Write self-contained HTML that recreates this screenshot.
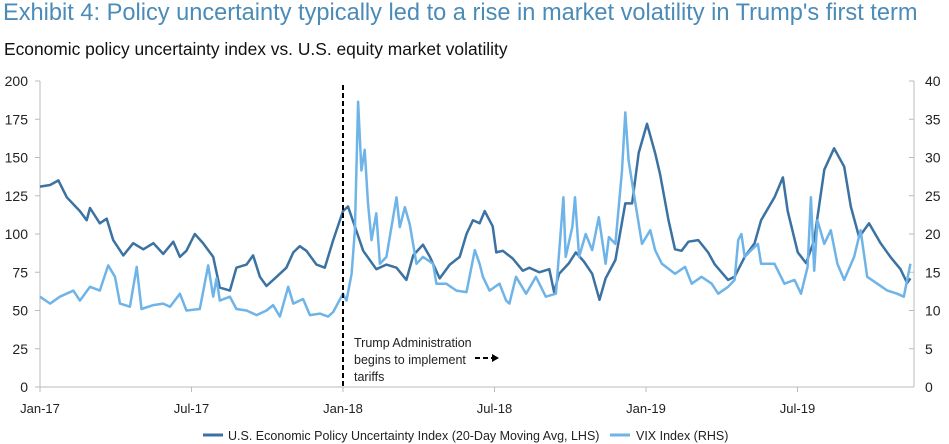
<!DOCTYPE html>
<html><head><meta charset="utf-8">
<style>
body{margin:0;background:#fff;width:949px;height:444px;overflow:hidden;font-family:"Liberation Sans",sans-serif}
#title{position:absolute;left:3px;top:0px;font-size:23.6px;color:#4b8bb8;white-space:nowrap}
#sub{position:absolute;left:4px;top:39px;font-size:17.4px;color:#111;white-space:nowrap}
svg{position:absolute;left:0;top:0}
text{font-family:"Liberation Sans",sans-serif}
</style></head><body>
<div id="title">Exhibit 4: Policy uncertainty typically led to a rise in market volatility in Trump's first term</div>
<div id="sub">Economic policy uncertainty index vs. U.S. equity market volatility</div>
<svg id="chart" width="949" height="444"></svg>
<script>
const epuMonths=[0,0.4,0.73,1.06,1.58,1.85,1.98,2.37,2.64,2.9,3.3,3.69,4.09,4.49,4.88,5.28,5.54,5.8,6.13,6.46,6.86,7.12,7.52,7.78,8.18,8.44,8.71,8.97,9.37,9.76,10.03,10.29,10.55,10.95,11.28,11.61,12.0,12.2,12.53,12.8,13.32,13.72,14.12,14.51,14.78,15.17,15.44,15.83,16.23,16.62,16.89,17.15,17.41,17.61,17.93,18.07,18.33,18.72,19.12,19.38,19.77,20.17,20.36,20.56,20.95,21.22,21.54,21.87,22.16,22.4,22.79,23.18,23.45,23.71,24.04,24.36,24.56,24.89,25.15,25.41,25.68,26.07,26.46,26.73,27.25,27.51,27.91,28.3,28.56,29.09,29.42,29.61,30.01,30.34,30.66,31.06,31.45,31.85,32.11,32.44,32.83,33.29,33.68,34.08,34.34,34.47];
const epuValues=[131,132,135,124,115,109,117,107,110,96,86,94,90,94,87,95,85,89,100,94,85,65,63,78,80,86,72,66,72,78,88,92,89,80,78,96,115,118,102,89,77,80,78,70,86,93,85,71,80,85,100,109,107,115,105,88,89,84,76,78,75,77,62,74,81,88,82,74,57,71,83,120,120,153,172,153,139,109,90,89,95,96,88,80,70,72,85,94,109,124,137,115,88,81,96,142,156,144,118,98,107,94,85,77,68,71];
const vixMonths=[0,0.4,0.79,1.32,1.58,1.98,2.37,2.7,2.97,3.17,3.56,3.83,4.02,4.49,4.88,5.15,5.54,5.8,6.33,6.66,6.86,6.99,7.12,7.52,7.78,8.18,8.58,8.97,9.23,9.5,9.83,10.03,10.42,10.69,11.08,11.41,11.61,12.0,12.14,12.34,12.47,12.6,12.73,12.86,12.99,13.13,13.32,13.46,13.72,14.12,14.25,14.45,14.64,14.91,15.17,15.57,15.7,16.09,16.49,16.89,17.22,17.41,17.54,17.8,18.2,18.46,18.59,18.85,19.25,19.64,20.03,20.43,20.73,20.82,21.08,21.19,21.35,21.61,21.87,22.13,22.4,22.53,22.79,23.05,23.18,23.31,23.58,23.84,24.17,24.36,24.63,25.15,25.55,25.81,26.2,26.6,26.86,27.25,27.51,27.65,27.78,27.91,28.17,28.43,28.56,29.09,29.48,29.88,30.14,30.4,30.53,30.66,30.79,31.06,31.32,31.58,31.85,32.24,32.5,32.76,33.16,33.56,33.95,34.21,34.47];
const vixValues=[11.8,10.9,11.8,12.6,11.3,13.1,12.6,15.9,14.4,10.9,10.5,15.7,10.2,10.7,10.9,10.5,12.2,10.0,10.2,15.9,11.8,14.2,11.3,11.8,10.2,10.0,9.4,10.0,10.7,9.2,13.1,10.9,11.5,9.4,9.6,9.2,9.8,12.2,11.3,14.8,20.5,37.3,28.3,31.0,24.0,19.2,22.7,16.1,17.0,24.8,20.9,23.5,21.3,16.1,17.0,16.1,13.5,13.5,12.6,12.4,17.9,16.1,14.4,12.6,13.5,11.3,10.9,14.4,12.2,14.4,11.8,12.2,24.8,17.0,20.9,24.8,17.0,20.0,17.9,22.2,16.1,19.6,18.7,28.3,35.9,29.6,24.0,18.7,20.5,17.9,16.1,14.8,15.7,13.5,14.4,13.5,12.2,13.1,14.0,19.2,20.0,17.0,17.9,18.7,16.1,16.1,13.5,14.0,12.2,15.7,24.8,15.2,21.8,18.7,20.5,16.1,14.0,17.0,20.5,14.4,13.5,12.6,12.2,11.8,16.1];
const leftTicks=[0,25,50,75,100,125,150,175,200];
const rightTicks=[0,5,10,15,20,25,30,35,40];
const xTickLabels=["Jan-17","Jul-17","Jan-18","Jul-18","Jan-19","Jul-19"];
const xTickMonths=[0,6,12,18,24,30];
const tariffMonth=12;

const NS="http://www.w3.org/2000/svg";
const svg=document.getElementById('chart');
const X0=40,PXM=25.25,Y0=387,YTOP=81;
const xs=m=>X0+m*PXM;
const yl=v=>Y0-v*(Y0-YTOP)/200;
const yr=v=>Y0-v*(Y0-YTOP)/40;
function mk(tag,attrs,txt){const e=document.createElementNS(NS,tag);for(const k in attrs)e.setAttribute(k,attrs[k]);if(txt!==undefined)e.textContent=txt;svg.appendChild(e);return e;}

let a=mk('line',{x1:X0,y1:YTOP,x2:X0,y2:Y0,stroke:'#bbb','stroke-width':1});


a=mk('line',{x1:914,y1:YTOP,x2:914,y2:Y0,stroke:'#bbb','stroke-width':1});


a=mk('line',{x1:X0,y1:Y0,x2:914,y2:Y0,stroke:'#bbb','stroke-width':1});


leftTicks.forEach(v=>{
  mk('line',{x1:X0-5,y1:yl(v),x2:X0,y2:yl(v),stroke:'#bbb'});
  const t=mk('text',{x:X0-12,y:yl(v)+5,'text-anchor':'end','font-size':14,fill:'#222'},String(v));
  
  
});
rightTicks.forEach(v=>{
  mk('line',{x1:909,y1:yr(v),x2:914,y2:yr(v),stroke:'#bbb'});
  const t=mk('text',{x:925,y:yr(v)+5,'font-size':14,fill:'#222'},String(v));
  
  
});
xTickLabels.forEach((l,i)=>{
  mk('line',{x1:xs(xTickMonths[i]),y1:Y0,x2:xs(xTickMonths[i]),y2:Y0+5,stroke:'#bbb'});
  const t=mk('text',{x:xs(xTickMonths[i]),y:413,'text-anchor':'middle','font-size':13,fill:'#222'},l);
  
  
});
function path(ms,vs,fy){return ms.map((m,i)=>(i?'L':'M')+xs(m).toFixed(1)+','+fy(vs[i]).toFixed(1)).join('');}
let p=mk('path',{d:path(epuMonths,epuValues,yl),fill:'none',stroke:'#3b72a2','stroke-width':2.5,'stroke-linejoin':'round'});


p=mk('path',{d:path(vixMonths,vixValues,yr),fill:'none',stroke:'#6fb4e8','stroke-width':2.5,'stroke-linejoin':'round'});


let d=mk('line',{x1:xs(tariffMonth),y1:85,x2:xs(tariffMonth),y2:Y0,stroke:'#000','stroke-width':2,'stroke-dasharray':'5,3'});


['Trump Administration','begins to implement','tariffs'].forEach((s,i)=>{
  const t=mk('text',{x:xs(tariffMonth)+11,y:347+i*17,'font-size':12.5,fill:'#222'},s);
  
  
});
d=mk('line',{x1:xs(tariffMonth)+132,y1:358,x2:xs(tariffMonth)+150,y2:358,stroke:'#000','stroke-width':2,'stroke-dasharray':'5,3'});


mk('path',{d:`M${xs(tariffMonth)+149},354L${xs(tariffMonth)+156},358L${xs(tariffMonth)+149},362Z`,fill:'#000'});
let g=mk('line',{x1:203,y1:435,x2:223,y2:435,stroke:'#3b72a2','stroke-width':3});


g=mk('text',{x:228,y:440,'font-size':12.5,fill:'#222'},'U.S. Economic Policy Uncertainty Index (20-Day Moving Avg, LHS)');


g=mk('line',{x1:610,y1:435,x2:630,y2:435,stroke:'#6fb4e8','stroke-width':3});


g=mk('text',{x:636,y:440,'font-size':12.5,fill:'#222'},'VIX Index (RHS)');


</script>
</body></html>
